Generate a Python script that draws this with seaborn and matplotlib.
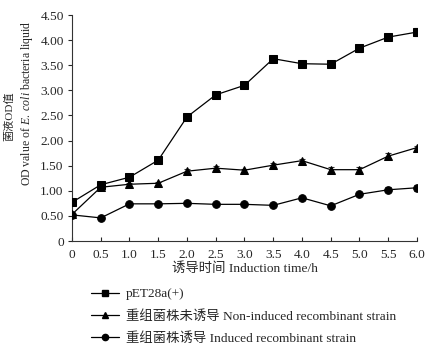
import pandas as pd
import matplotlib.pyplot as plt
import seaborn as sns
import numpy as np

# data
TIME = [0, 0.5, 1.0, 1.5, 2.0, 2.5, 3.0, 3.5, 4.0, 4.5, 5.0, 5.5, 6.0]
PET28A = [0.77, 1.12, 1.27, 1.61, 2.47, 2.91, 3.10, 3.63, 3.53, 3.52, 3.84, 4.06, 4.16]
PET28A_ERR = [0.02, 0.02, 0.07, 0.02, 0.02, 0.02, 0.02, 0.02, 0.02, 0.02, 0.07, 0.02, 0.08]
NON_INDUCED = [0.53, 1.07, 1.13, 1.15, 1.39, 1.45, 1.41, 1.51, 1.60, 1.42, 1.42, 1.69, 1.86]
NON_INDUCED_ERR = [0.02, 0.02, 0.03, 0.03, 0.04, 0.05, 0.03, 0.04, 0.04, 0.06, 0.06, 0.06, 0.04]
INDUCED = [0.52, 0.46, 0.74, 0.74, 0.75, 0.73, 0.73, 0.71, 0.86, 0.70, 0.93, 1.02, 1.06]
INDUCED_ERR = [0.02, 0.02, 0.02, 0.02, 0.02, 0.02, 0.02, 0.02, 0.04, 0.02, 0.02, 0.05, 0.06]

LABELS = ['pET28a(+)', '重组菌株未诱导 Non-induced recombinant strain',
          '重组菌株诱导 Induced recombinant strain']
MARKERS = {LABELS[0]: 's', LABELS[1]: '^', LABELS[2]: 'o'}

X_TICKS = [0, 0.5, 1.0, 1.5, 2.0, 2.5, 3.0, 3.5, 4.0, 4.5, 5.0, 5.5, 6.0]
X_TICKLABELS = ['0', '0.5', '1.0', '1.5', '2.0', '2.5', '3.0', '3.5', '4.0', '4.5', '5.0', '5.5', '6.0']
Y_TICKS = [0, 0.5, 1.0, 1.5, 2.0, 2.5, 3.0, 3.5, 4.0, 4.5]
Y_TICKLABELS = ['0', '0.50', '1.00', '1.50', '2.00', '2.50', '3.00', '3.50', '4.00', '4.50']

df = pd.DataFrame({
    'time': TIME * 3,
    'od': PET28A + NON_INDUCED + INDUCED,
    'err': PET28A_ERR + NON_INDUCED_ERR + INDUCED_ERR,
    'group': [LABELS[0]] * 13 + [LABELS[1]] * 13 + [LABELS[2]] * 13,
})

sns.set_style('ticks')
plt.rcParams['font.family'] = ['Liberation Serif', 'Noto Sans CJK SC']
plt.rcParams['mathtext.fontset'] = 'custom'
plt.rcParams['mathtext.it'] = 'Liberation Serif:italic'
plt.rcParams['mathtext.rm'] = 'Liberation Serif'

FS = 9.6

fig = plt.figure(figsize=(4.35, 3.53), dpi=100)
ax = fig.add_axes([72 / 435, 1 - 241 / 353, 345 / 435, 226 / 353])

# error bars first, then lines + markers on top
for g in LABELS:
    sub = df[df['group'] == g]
    ax.errorbar(sub['time'], sub['od'], yerr=sub['err'], fmt='none',
                ecolor='#333333', elinewidth=0.8, capsize=2, capthick=0.8, zorder=2)

sns.lineplot(data=df, x='time', y='od', style='group', markers=MARKERS,
             dashes=False, color='black', linewidth=0.9, markersize=5.5,
             markeredgecolor='black', ax=ax, legend=False, zorder=3)

ax.set_xlim(0, 6)
ax.set_ylim(0, 4.5)
ax.set_xticks(X_TICKS)
ax.set_xticklabels(X_TICKLABELS)
ax.set_yticks(Y_TICKS)
ax.set_yticklabels(Y_TICKLABELS)
ax.tick_params(axis='x', direction='in', length=3, width=0.8, labelsize=FS, pad=6)
ax.tick_params(axis='y', direction='out', length=3, width=0.8, labelsize=FS, pad=3)
for s in ['top', 'right']:
    ax.spines[s].set_visible(False)
for s in ['left', 'bottom']:
    ax.spines[s].set_linewidth(0.8)
    ax.spines[s].set_color('#333333')

ax.set_xlabel('')
ax.set_ylabel('')
fig.text(245 / 435, 1 - 269 / 353, '诱导时间 Induction time/h', fontsize=FS,
         ha='center', va='center')
fig.text(9 / 435, 1 - 116 / 353, '菌液OD值', rotation=90, fontsize=8,
         ha='center', va='center')
fig.text(27 / 435, 1 - 103 / 353, r'OD value of $E.\ coli$ bacteria liquid',
         rotation=90, fontsize=8.5, ha='center', va='center')

handles = [plt.Line2D([], [], color='black', marker=MARKERS[g], markersize=4.5,
                      linewidth=0.9) for g in LABELS]
fig.legend(handles, LABELS, loc='upper left', bbox_to_anchor=(91 / 435, 1 - 288 / 353),
           frameon=False, fontsize=FS, handlelength=2.1, handletextpad=0.5,
           labelspacing=0.7, borderaxespad=0, borderpad=0)

plt.savefig('out.png', dpi=100)
